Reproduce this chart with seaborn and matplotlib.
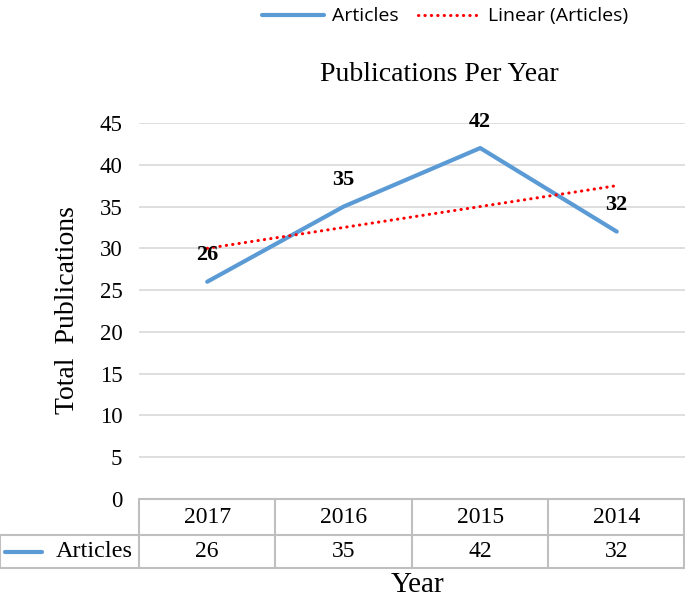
import numpy as np
import pandas as pd
import matplotlib
matplotlib.use('Agg')
import matplotlib.pyplot as plt
from matplotlib.lines import Line2D
import seaborn as sns

years = ['2017', '2016', '2015', '2014']
articles = [26, 35, 42, 32]
series_name = 'Articles'
trend_name = 'Linear (Articles)'

sns.set_theme(style='white')
plt.rcParams['font.family'] = ['Liberation Serif', 'DejaVu Serif']
plt.rcParams['text.color'] = 'black'

df = pd.DataFrame({'pos': np.arange(len(years)), 'year': years, 'articles': articles})
# excel-style linear trendline over the category positions
slope, icpt = np.polyfit(df['pos'] + 1, df['articles'], 1)
df['trend'] = slope * (df['pos'] + 1) + icpt

fig = plt.figure(figsize=(6.85, 6.04), dpi=100)
ax = fig.add_axes([0.2029, 0.1738, 0.7971, 0.6226])

blue = '#5B9BD5'
grid_c = '#d9d9d9'
border_c = '#bfbfbf'
dots = (0, (0.1, 2.0))

sns.lineplot(data=df, x='pos', y='articles', ax=ax, color=blue, linewidth=3, label=series_name)
sns.lineplot(data=df, x='pos', y='trend', ax=ax, color='red', linewidth=2.2,
             linestyle=dots, dash_capstyle='round', label=trend_name)

for x, y in zip(df['pos'], df['articles']):
    ax.annotate(str(y), (x, y), xytext=(0, 19), textcoords='offset points',
                ha='center', va='center', fontsize=16, fontweight='bold', color='black')

ax.set_xlim(-0.5, len(years) - 0.5)
ax.set_ylim(0, 45)
ax.set_yticks(range(0, 46, 5))
ax.set_xticks([])
ax.set_xlabel('')
ax.set_ylabel('')
ax.tick_params(axis='y', labelsize=16.5, length=0, pad=12, colors='black')
ax.grid(axis='y', color=grid_c, linewidth=1.2)
ax.set_axisbelow(True)
for s in ax.spines.values():
    s.set_visible(False)

# data table under the plot
n = len(years)
ah = 376.0
r1 = -36 / ah
r2 = -69 / ah
lx = -139 / 546.0
kw = dict(transform=ax.transAxes, clip_on=False, color=border_c, linewidth=1.5)
ax.add_line(Line2D([0, 1], [0, 0], **kw))
ax.add_line(Line2D([lx, 1], [r1, r1], **kw))
ax.add_line(Line2D([lx, 1], [r2, r2], **kw))
ax.add_line(Line2D([lx, lx], [r1, r2], **kw))
for i in range(n + 1):
    xx = min(i / n, 0.999)
    ax.add_line(Line2D([xx, xx], [0, r2], **kw))
for i, (yr, v) in enumerate(zip(years, articles)):
    cx = (i + 0.5) / n
    ax.text(cx, r1 / 2, yr, transform=ax.transAxes, ha='center', va='center', fontsize=17)
    ax.text(cx, (r1 + r2) / 2, str(v), transform=ax.transAxes, ha='center', va='center', fontsize=17)
ax.text(-0.012, (r1 + r2) / 2, series_name, transform=ax.transAxes, ha='right', va='center', fontsize=17.5)
ax.add_line(Line2D([-0.245, -0.178], [(r1 + r2) / 2] * 2, transform=ax.transAxes, clip_on=False,
                   color=blue, linewidth=3, solid_capstyle='round'))

ax.legend_.remove()
handles = [Line2D([], [], color=blue, linewidth=3),
           Line2D([], [], color='red', linewidth=2.2, linestyle=dots, dash_capstyle='round')]
fig.legend(handles, [series_name, trend_name], loc='center', bbox_to_anchor=(0.65, 0.973),
           ncol=2, frameon=False, prop={'family': 'Open Sans', 'size': 14},
           handlelength=3.2, columnspacing=1.0, handletextpad=0.4)

fig.text(0.641, 0.876, 'Publications Per Year', ha='center', va='center', fontsize=20)
fig.text(0.099, 0.487, 'Total  Publications', ha='center', va='center', fontsize=20, rotation=90)
fig.text(0.609, 0.031, 'Year', ha='center', va='center', fontsize=21)

fig.savefig('out.png', dpi=100)
